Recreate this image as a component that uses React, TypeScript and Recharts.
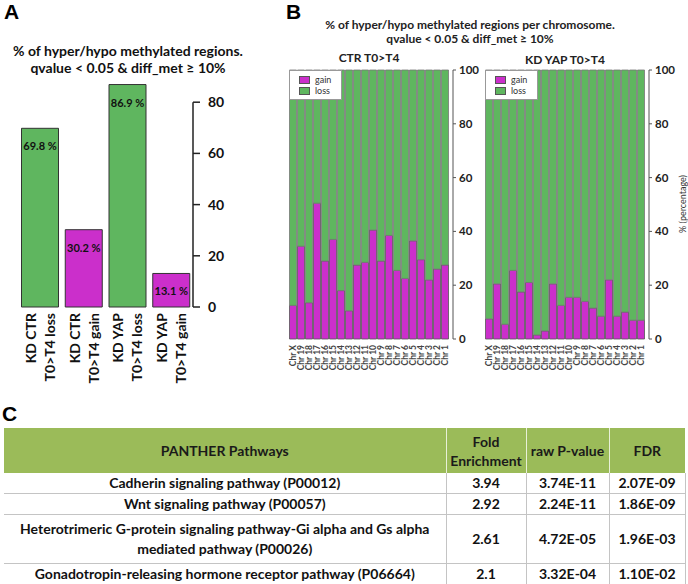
import React from 'react';
import { BarChart, Bar, XAxis, YAxis, Cell, LabelList, ReferenceLine, Legend } from 'recharts';

const FONT = 'Lato, "Open Sans", sans-serif';
const GREEN = '#5fb65f';
const MAGENTA = '#cb2fcb';

// Panel A
const aGroups = ['KD CTR', 'KD CTR', 'KD YAP', 'KD YAP'];
const aComparisons = ['T0>T4 loss', 'T0>T4 gain', 'T0>T4 loss', 'T0>T4 gain'];
const aKinds = ['loss', 'gain', 'loss', 'gain'];
const aValues = [69.8, 30.2, 86.9, 13.1];
const aTicks = [0, 20, 40, 60, 80];

// Panel B
const chromosomes = ['Chr X', 'Chr 19', 'Chr 18', 'Chr 17', 'Chr 16', 'Chr 15', 'Chr 14', 'Chr 13', 'Chr 12', 'Chr 11', 'Chr 10', 'Chr 9', 'Chr 8', 'Chr 7', 'Chr 6', 'Chr 5', 'Chr 4', 'Chr 3', 'Chr 2', 'Chr 1'];
const ctrGain = [12.5, 34.5, 13.5, 50.5, 29, 37, 18, 10.5, 27.5, 28.5, 40.5, 29, 38.5, 25.5, 22.5, 36.5, 29.5, 22, 26, 27.5];
const ctrLoss = [87.5, 65.5, 86.5, 49.5, 71, 63, 82, 89.5, 72.5, 71.5, 59.5, 71, 61.5, 74.5, 77.5, 63.5, 70.5, 78, 74, 72.5];
const yapGain = [7.5, 20.5, 5.5, 25.5, 17.5, 21, 1.5, 3, 20.5, 12.5, 15.5, 15.5, 14, 11.5, 8.5, 22, 8.5, 10, 7, 7];
const yapLoss = [92.5, 79.5, 94.5, 74.5, 82.5, 79, 98.5, 97, 79.5, 87.5, 84.5, 84.5, 86, 88.5, 91.5, 78, 91.5, 90, 93, 93];
const bTicks = [0, 20, 40, 60, 80, 100];

// Panel C
const tableHeaders = ['PANTHER Pathways', 'Fold Enrichment', 'raw P-value', 'FDR'];
const pathways = [
  ['Cadherin signaling pathway (P00012)'],
  ['Wnt signaling pathway (P00057)'],
  ['Heterotrimeric G-protein signaling pathway-Gi alpha and Gs alpha', 'mediated pathway (P00026)'],
  ['Gonadotropin-releasing hormone receptor pathway (P06664)'],
];
const foldEnrichment = ['3.94', '2.92', '2.61', '2.1'];
const rawPValues = ['3.74E-11', '2.24E-11', '4.72E-05', '3.32E-04'];
const fdrValues = ['2.07E-09', '1.86E-09', '1.96E-03', '1.10E-02'];

const aData = aValues.map((v, i) => ({ name: `${aGroups[i]} ${aComparisons[i]}`, value: v, kind: aKinds[i] }));
const lastACategory = aData[aData.length - 1].name;

const ATick = (props: any) => {
  const { x, y, index } = props;
  return (
    <g>
      <text transform={`translate(${x - 4},${y}) rotate(-90)`} textAnchor="end" fontSize={14} fontWeight={700} fill="#111" fontFamily={FONT}>{aGroups[index]}</text>
      <text transform={`translate(${x + 15},${y}) rotate(-90)`} textAnchor="end" fontSize={14} fontWeight={700} fill="#111" fontFamily={FONT}>{aComparisons[index]}</text>
    </g>
  );
};

const ALabel = (props: any) => {
  const { x, y, width, value } = props;
  return (
    <text x={x + width / 2} y={y + 22} textAnchor="middle" fontSize={11} fontWeight={700} fill="#111" fontFamily={FONT}>{`${value} %`}</text>
  );
};

const ChrTick = (props: any) => {
  const { x, y, payload } = props;
  return (
    <text transform={`translate(${x + 3},${y}) rotate(-90)`} textAnchor="end" fontSize={8.5} fontWeight={700} fill="#444" fontFamily={FONT}>{payload.value}</text>
  );
};

const BLegend = () => (
  <div style={{ background: '#fff', border: '1px solid #999', padding: '3px 10px 3px 9px', fontFamily: FONT, fontSize: 9, color: '#333', lineHeight: '11px' }}>
    {[{ n: 'gain', c: MAGENTA }, { n: 'loss', c: GREEN }].map((it) => (
      <div key={it.n} style={{ display: 'flex', alignItems: 'center' }}>
        <span style={{ display: 'inline-block', width: 9, height: 6, background: it.c, border: '1px solid #555', marginRight: 5 }} />
        <span>{it.n}</span>
      </div>
    ))}
  </div>
);

function ChromChart({ left, yWidth, gain, loss }: any) {
  const data = chromosomes.map((c, i) => ({ chr: c, gain: gain[i], loss: loss[i] }));
  return (
    <div style={{ position: 'absolute', left, top: 0 }}>
      <BarChart width={9 + 164 + yWidth} height={380} data={data} margin={{ top: 70, right: 0, bottom: 0, left: 9 }} barCategoryGap={0.5}>
        <XAxis dataKey="chr" interval={0} tickLine={false} axisLine={false} height={41} tickSize={0} tickMargin={6} padding={{ left: 0, right: 4 }} tick={<ChrTick />} />
        <YAxis orientation="right" width={yWidth} domain={[0, 100]} ticks={bTicks} axisLine={{ stroke: '#555' }} tickLine={{ stroke: '#555' }} tickSize={3} tickMargin={3}
          tick={{ fill: '#222', fontSize: 11.5, fontWeight: 700, fontFamily: FONT }} />
        <Legend layout="horizontal" verticalAlign="middle" align="center" content={<BLegend />}
          wrapperStyle={{ left: 9, top: 70, width: 'auto', height: 'auto' }} />
        <Bar dataKey="gain" stackId="s" fill={MAGENTA} stroke="#555" strokeWidth={0.8} isAnimationActive={false} />
        <Bar dataKey="loss" stackId="s" fill={GREEN} stroke="#777" strokeWidth={0.8} isAnimationActive={false} />
      </BarChart>
    </div>
  );
}

const abs = (l: number, t: number, extra: any = {}) => ({ position: 'absolute' as const, left: l, top: t, ...extra });

export default function App() {
  const cellBorder = '1px solid #c4c4c4';
  const letter = { fontFamily: '"Liberation Sans", Arial, sans-serif', fontWeight: 700, fontSize: 21, lineHeight: '24px' };
  return (
    <div style={{ position: 'absolute', left: 0, top: 0, width: 688, height: 584, background: '#fff', fontFamily: FONT, overflow: 'hidden' }}>
      <div style={abs(4, 0, letter)}>A</div>
      <div style={abs(286, 0, letter)}>B</div>
      <div style={abs(2, 402, letter)}>C</div>

      <div style={abs(0, 42, { width: 256, textAlign: 'center', fontWeight: 700, fontSize: 14, lineHeight: '17px', color: '#111' })}>
        <div>% of hyper/hypo methylated regions.</div>
        <div>qvalue &lt; 0.05 &amp; diff_met ≥ 10%</div>
      </div>

      <div style={abs(0, 0)}>
        <BarChart width={240} height={398} data={aData} margin={{ top: 51, right: 0, bottom: 0, left: 18 }} barCategoryGap="8%">
          <XAxis dataKey="name" height={91} interval={0} tickLine={false} axisLine={false} tickSize={0} tickMargin={6} tick={<ATick />} />
          <YAxis orientation="right" width={47} domain={[0, 100]} ticks={aTicks} axisLine={false} tickSize={7} tickMargin={8}
            tickLine={{ stroke: '#222', strokeWidth: 1.5 }} tick={{ fill: '#111', fontSize: 14, fontWeight: 700, fontFamily: FONT }} />
          <ReferenceLine segment={[{ x: lastACategory, y: 0 }, { x: lastACategory, y: 80 }]} position="end" stroke="#222" strokeWidth={1.5} ifOverflow="visible" />
          <Bar dataKey="value" stroke="#333" strokeWidth={1} isAnimationActive={false}>
            {aData.map((d) => (
              <Cell key={d.name} fill={d.kind === 'loss' ? GREEN : MAGENTA} />
            ))}
            <LabelList dataKey="value" content={<ALabel />} />
          </Bar>
        </BarChart>
      </div>

      <div style={abs(290, 18, { width: 360, textAlign: 'center', fontWeight: 700, fontSize: 12, lineHeight: '14px', color: '#222' })}>
        <div>% of hyper/hypo methylated regions per chromosome.</div>
        <div>qvalue &lt; 0.05 &amp; diff_met ≥ 10%</div>
      </div>
      <div style={abs(289, 51, { width: 160, textAlign: 'center', fontWeight: 700, fontSize: 12, lineHeight: '14px', color: '#222' })}>CTR T0&gt;T4</div>
      <div style={abs(485, 53, { width: 160, textAlign: 'center', fontWeight: 700, fontSize: 12, lineHeight: '14px', color: '#222' })}>KD YAP T0&gt;T4</div>

      <ChromChart left={280} yWidth={31} gain={ctrGain} loss={ctrLoss} />
      <ChromChart left={476} yWidth={39} gain={yapGain} loss={yapLoss} />

      <div style={abs(682, 204, { transform: 'translate(-50%, -50%) rotate(-90deg)', whiteSpace: 'nowrap', fontSize: 9, color: '#333', fontWeight: 400 })}>% (percentage)</div>

      <table style={{ position: 'absolute', left: 4, top: 428, width: 681, borderCollapse: 'collapse', tableLayout: 'fixed', fontFamily: FONT, fontWeight: 700, fontSize: 14, color: '#111' }}>
        <colgroup>
          <col style={{ width: 442 }} />
          <col style={{ width: 80 }} />
          <col style={{ width: 83 }} />
          <col style={{ width: 76 }} />
        </colgroup>
        <thead>
          <tr style={{ height: 45, background: '#9bbb59' }}>
            {tableHeaders.map((h, i) => (
              <th key={h} style={{ padding: 0, textAlign: 'center', lineHeight: '19px', fontWeight: 700, whiteSpace: 'nowrap', color: '#1a1a1a', borderRight: i < 3 ? '1px solid #e8f0d8' : 'none' }}>
                {h === 'Fold Enrichment' ? (<><div>Fold</div><div>Enrichment</div></>) : h}
              </th>
            ))}
          </tr>
        </thead>
        <tbody>
          {pathways.map((p, i) => (
            <tr key={i} style={{ height: p.length > 1 ? 49 : 20 }}>
              <td style={{ padding: 0, textAlign: 'center', lineHeight: '20px', whiteSpace: 'nowrap', borderBottom: cellBorder, borderRight: cellBorder }}>
                {p.map((l) => (<div key={l}>{l}</div>))}
              </td>
              <td style={{ padding: 0, textAlign: 'center', lineHeight: '18px', borderBottom: cellBorder, borderRight: cellBorder }}>{foldEnrichment[i]}</td>
              <td style={{ padding: 0, textAlign: 'center', lineHeight: '18px', borderBottom: cellBorder, borderRight: cellBorder }}>{rawPValues[i]}</td>
              <td style={{ padding: 0, textAlign: 'center', lineHeight: '18px', borderBottom: cellBorder, borderRight: cellBorder }}>{fdrValues[i]}</td>
            </tr>
          ))}
        </tbody>
      </table>
    </div>
  );
}
